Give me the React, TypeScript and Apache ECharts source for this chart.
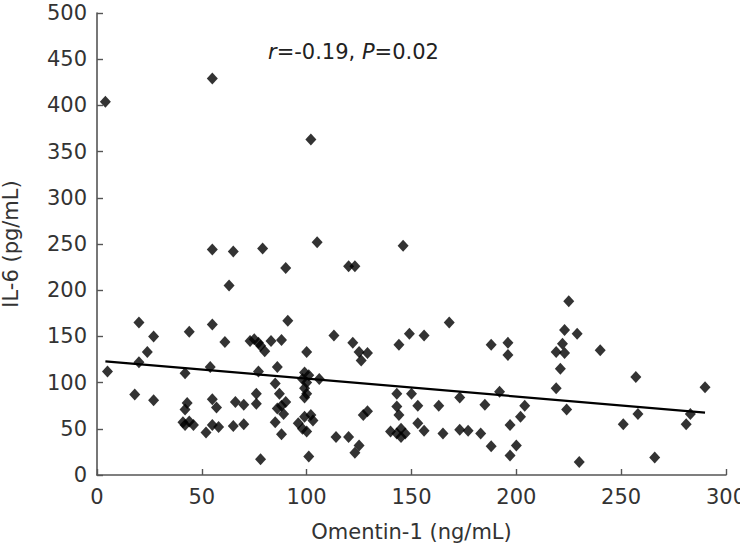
import React, { useEffect, useRef } from "react";
import * as echarts from "echarts";

const omentin: number[] = [
  4, 55, 102, 55, 65, 79, 105, 90, 120, 123, 146,
  63, 20, 55, 91, 44, 27, 61, 24, 20, 5, 42, 54, 18, 27, 43, 42, 55, 57, 66, 70, 41, 44, 46, 42, 52, 55, 58, 65, 70, 78,
  73, 75, 77, 78, 80, 83, 88, 86, 77, 85, 87, 76, 76, 86, 90, 88, 89, 85, 88,
  100, 99, 101, 98, 106, 100, 99, 100, 99, 102, 99, 103, 96, 98, 100, 101,
  113, 122, 125, 129, 126, 127, 129, 114, 120, 125, 123,
  144, 149, 156, 168, 143, 150, 143, 144, 153, 153, 156, 140, 143, 145, 147, 145, 163, 165, 173, 173, 177, 185, 183, 188, 188, 192, 196, 196, 197, 197, 204, 202, 200,
  225, 223, 229, 222, 219, 223, 221, 219, 224, 230, 240, 257, 251, 258, 266, 281, 283, 290,
];

const il6: number[] = [
  404, 429, 363, 244, 242, 245, 252, 224, 226, 226, 248,
  205, 165, 163, 167, 155, 150, 144, 133, 122, 112, 110, 117, 87, 81, 78, 71, 82, 73, 79, 76, 57, 58, 54, 54, 46, 54, 52, 53, 55, 17,
  145, 147, 143, 140, 134, 145, 146, 117, 112, 99, 88, 88, 77, 72, 79, 75, 66, 57, 44,
  133, 111, 108, 104, 104, 100, 94, 88, 84, 65, 63, 59, 56, 50, 47, 20,
  151, 143, 133, 132, 124, 65, 69, 41, 41, 32, 24,
  141, 153, 151, 165, 88, 88, 74, 65, 75, 56, 48, 47, 45, 50, 45, 41, 75, 45, 84, 49, 48, 76, 45, 31, 141, 90, 130, 143, 54, 21, 75, 63, 32,
  188, 157, 153, 142, 133, 132, 115, 94, 71, 14, 135, 106, 55, 66, 19, 55, 66, 95,
];

const fitX: number[] = [4, 290];
const fitY: number[] = [123, 67.5];

const xTicks: number[] = [0, 50, 100, 150, 200, 250, 300];
const yTicks: number[] = [0, 50, 100, 150, 200, 250, 300, 350, 400, 450, 500];

export default function App() {
  const ref = useRef<HTMLDivElement>(null);
  useEffect(() => {
    if (!ref.current) return;
    const chart = echarts.init(ref.current, null, { renderer: "svg" });
    const font = "DejaVu Sans";
    const axisColor = "#555";
    chart.setOption({
      animation: false,
      backgroundColor: "#fff",
      textStyle: { fontFamily: font },
      grid: { left: 97, right: 14, top: 13, bottom: 80, containLabel: false, outerBoundsMode: "none" },
      xAxis: {
        type: "value",
        min: xTicks[0],
        max: xTicks[xTicks.length - 1],
        interval: 50,
        name: "Omentin-1 (ng/mL)",
        nameLocation: "middle",
        nameGap: 46,
        nameTextStyle: { fontFamily: font, fontSize: 21, color: "#333" },
        axisLine: { show: true, lineStyle: { color: axisColor, width: 1.6 } },
        axisTick: { show: true, inside: true, length: 6, lineStyle: { color: axisColor, width: 1.4 } },
        axisLabel: { fontFamily: font, fontSize: 21, color: "#333", margin: 11 },
        splitLine: { show: false },
      },
      yAxis: {
        type: "value",
        min: yTicks[0],
        max: yTicks[yTicks.length - 1],
        interval: 50,
        name: "IL-6 (pg/mL)",
        nameLocation: "middle",
        nameGap: 76,
        nameTextStyle: { fontFamily: font, fontSize: 21, color: "#333" },
        axisLine: { show: true, lineStyle: { color: axisColor, width: 1.6 } },
        axisTick: { show: true, inside: true, length: 6, lineStyle: { color: axisColor, width: 1.4 } },
        axisLabel: { fontFamily: font, fontSize: 21, color: "#333", margin: 10 },
        splitLine: { show: false },
      },
      graphic: [
        {
          type: "text",
          left: 268,
          top: 41,
          style: {
            text: "{i|r}=-0.19, {i|P}=0.02",
            rich: {
              i: { fontStyle: "italic", fontFamily: font, fontSize: 21, fill: "#222" },
            },
            fontFamily: font,
            fontSize: 21,
            fill: "#222",
          },
        },
      ],
      series: [
        {
          type: "scatter",
          data: omentin.map((x, i) => [x, il6[i]]),
          symbol: "diamond",
          symbolSize: [11, 12],
          itemStyle: { color: "#000" },
          z: 3,
        },
        {
          type: "line",
          data: fitX.map((x, i) => [x, fitY[i]]),
          symbol: "none",
          lineStyle: { color: "#000", width: 2.2 },
          z: 2,
        },
      ],
    });
    return () => chart.dispose();
  }, []);
  return (
    <div
      ref={ref}
      style={{ position: "absolute", left: 0, top: 0, width: 740, height: 555 }}
    />
  );
}
